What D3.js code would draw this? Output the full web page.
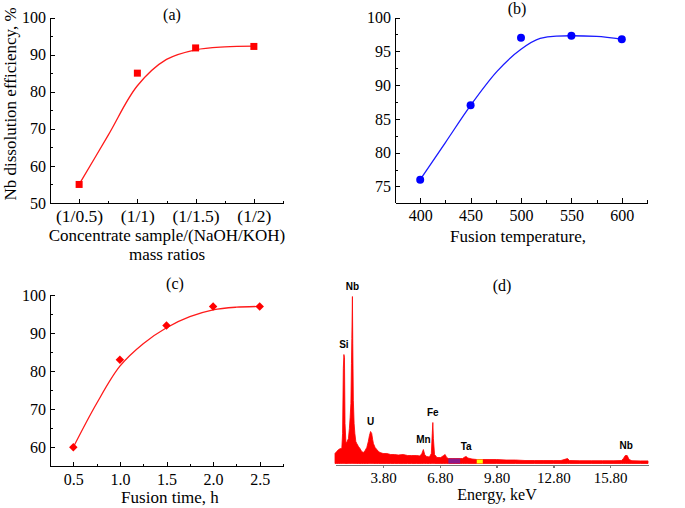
<!DOCTYPE html>
<html><head><meta charset="utf-8">
<script src="https://cdn.jsdelivr.net/npm/d3@7/dist/d3.min.js"></script>
<style>
html,body{margin:0;padding:0;background:#fff;}
svg text{font-family:"Liberation Serif","Times New Roman",serif;fill:#000;}
.el{font-family:"Liberation Sans",Arial,sans-serif !important;font-weight:bold;font-size:10px;}
</style></head>
<body>
<svg id="c" width="685" height="508"></svg>
<script>
// ---------- Panel (a) ----------
const aCategories = ["(1/0.5)", "(1/1)", "(1/1.5)", "(1/2)"];
const aValues = [55, 85, 91.8, 92.2];
const aFitX = [0, 0.5, 1, 1.5, 2, 2.5, 3];
const aFitY = [55, 68.3, 81.6, 88.7, 91.3, 92.1, 92.3];
const aYTicks = [50, 60, 70, 80, 90, 100];

// ---------- Panel (b) ----------
const bTemps = [400, 450, 500, 550, 600];
const bValues = [76, 87, 97, 97.3, 96.8];
const bFitX = [400, 425, 450, 476, 500, 519, 535, 550, 575, 600];
const bFitY = [76, 81.5, 87, 92.0, 95.3, 96.9, 97.25, 97.3, 97.2, 96.8];
const bYTicks = [75, 80, 85, 90, 95, 100];

// ---------- Panel (c) ----------
const cTimes = [0.5, 1.0, 1.5, 2.0, 2.5];
const cValues = [60, 83, 92, 97, 97];
const cFitX = [0.5, 0.75, 1.0, 1.25, 1.5, 1.75, 2.0, 2.25, 2.5];
const cFitY = [60, 71.5, 81.3, 87.2, 91.4, 94.3, 96.1, 96.8, 97.0];
const cYTicks = [60, 70, 80, 90, 100];

// ---------- Panel (d) EDX spectrum ----------
const dEnergy = [1.26,1.35,1.45,1.55,1.62,1.66,1.70,1.73,1.76,1.79,1.84,1.90,1.97,2.02,2.06,2.10,2.13,2.15,2.18,2.20,2.23,2.27,2.31,2.36,2.41,2.50,2.58,2.67,2.76,2.85,2.94,3.02,3.08,3.14,3.20,3.25,3.29,3.38,3.47,3.56,3.64,3.80,4.00,4.20,4.40,4.60,4.86,5.10,5.30,5.58,5.75,5.85,5.93,6.00,6.10,6.25,6.35,6.40,6.43,6.46,6.52,6.65,6.85,7.00,7.08,7.16,7.25,7.45,7.65,7.87,8.00,8.12,8.19,8.28,8.50,8.75,9.07,9.40,9.80,10.3,10.8,11.3,11.8,12.3,12.8,13.2,13.55,13.65,14.2,14.8,15.4,16.0,16.40,16.50,16.60,16.70,16.80,16.95,17.4,17.8];
const dCounts = [100,120,140,150,150,300,950,1090,1060,400,200,220,250,350,460,600,1000,1250,1670,1200,630,400,300,220,200,170,150,120,110,130,160,220,280,320,300,240,200,160,140,120,110,100,100,90,90,85,90,80,80,80,75,100,140,90,70,65,100,300,410,250,90,60,60,80,90,60,50,50,50,50,50,65,70,55,45,40,40,40,40,35,35,30,30,30,30,30,50,30,28,28,28,28,30,50,80,80,40,28,26,26];
const dTicks = [3.8, 6.8, 9.8, 12.8, 15.8];
const dPeaks = [
  {label: "Nb", e: 2.18}, {label: "Si", e: 1.73}, {label: "U", e: 3.14},
  {label: "Mn", e: 5.93}, {label: "Fe", e: 6.43}, {label: "Ta", e: 8.19}, {label: "Nb", e: 16.65}
];
const dRoiPurple = [7.25, 7.87];
const dRoiYellow = [8.75, 9.07];

const svg = d3.select("#c");

function axes(g, x, y, opt) {
  const gx = g.append("g").attr("transform", `translate(0,${y.range()[0]})`);
  gx.call(d3.axisBottom(x).tickValues(opt.xMajor).tickSizeInner(-4.5).tickSizeOuter(0).tickPadding(7).tickFormat(opt.xFmt));
  gx.append("g").call(d3.axisBottom(x).tickValues(opt.xMinor).tickSizeInner(-2.5).tickSizeOuter(0).tickFormat(""))
    .select(".domain").remove();
  gx.selectAll(".tick text").attr("font-size", opt.xFont || 16);
  const gy = g.append("g").attr("transform", `translate(${x.range()[0]},0)`);
  gy.call(d3.axisLeft(y).tickValues(opt.yMajor).tickSizeInner(-4.5).tickSizeOuter(0).tickPadding(4));
  gy.append("g").call(d3.axisLeft(y).tickValues(opt.yMinor).tickSizeInner(-2.5).tickSizeOuter(0).tickFormat(""))
    .select(".domain").remove();
  gy.selectAll(".tick text").attr("font-size", 16);
  g.selectAll(".tick text").attr("font-family", "Liberation Serif");
  g.selectAll(".domain, .tick line").attr("stroke", "#000").attr("stroke-width", 1).attr("shape-rendering", "crispEdges");
}

// ===== (a) =====
{
  const g = svg.append("g");
  const x = d3.scaleLinear().domain([-0.5, 3.5]).range([50, 283]);
  const y = d3.scaleLinear().domain([50, 100]).range([203, 17.5]);
  axes(g, x, y, {xMajor: [0,1,2,3], xMinor: [0.5,1.5,2.5,3.5], xFmt: i => aCategories[i], xFont: 17.5,
                 yMajor: aYTicks, yMinor: [55,65,75,85,95]});
  const fit = aFitX.map((v,i)=>[v,aFitY[i]]);
  g.append("path").datum(fit).attr("fill","none").attr("stroke","#ff1a1a").attr("stroke-width",1.3)
    .attr("d", d3.line().x(d=>x(d[0])).y(d=>y(d[1])).curve(d3.curveCatmullRom.alpha(0.5)));
  g.selectAll("rect.m").data(aValues).join("rect").attr("class","m")
    .attr("x",(d,i)=>x(i)-3.5).attr("y",d=>y(d)-3.5).attr("width",7).attr("height",7).attr("fill","#ff0000");
  g.append("text").attr("x",172).attr("y",20).attr("text-anchor","middle").attr("font-size",16).text("(a)");
  g.append("text").attr("x",167).attr("y",241).attr("text-anchor","middle").attr("font-size",17).text("Concentrate sample/(NaOH/KOH)");
  g.append("text").attr("x",167).attr("y",260).attr("text-anchor","middle").attr("font-size",17).text("mass ratios");
  g.append("text").attr("transform","translate(15.5,104) rotate(-90)").attr("text-anchor","middle").attr("font-size",17)
    .text("Nb dissolution efficiency, %");
}

// ===== (b) =====
{
  const g = svg.append("g");
  const x = d3.scaleLinear().domain([375, 625]).range([395, 647]);
  const y = d3.scaleLinear().domain([72.6, 100]).range([202.7, 17.5]);
  axes(g, x, y, {xMajor: bTemps, xMinor: [425,475,525,575,625], xFmt: d3.format("d"),
                 yMajor: bYTicks, yMinor: [77.5,82.5,87.5,92.5,97.5]});
  const fit = bFitX.map((v,i)=>[v,bFitY[i]]);
  g.append("path").datum(fit).attr("fill","none").attr("stroke","#1a1aff").attr("stroke-width",1.3)
    .attr("d", d3.line().x(d=>x(d[0])).y(d=>y(d[1])).curve(d3.curveMonotoneX));
  g.selectAll("circle").data(bValues).join("circle")
    .attr("cx",(d,i)=>x(bTemps[i])).attr("cy",d=>y(d)).attr("r",4).attr("fill","#0000ff");
  g.append("text").attr("x",517).attr("y",14).attr("text-anchor","middle").attr("font-size",16).text("(b)");
  g.append("text").attr("x",518).attr("y",242).attr("text-anchor","middle").attr("font-size",17).text("Fusion temperature,");
}

// ===== (c) =====
{
  const g = svg.append("g");
  const x = d3.scaleLinear().domain([0.25, 2.75]).range([50, 283]);
  const y = d3.scaleLinear().domain([55, 100]).range([466.3, 295]);
  axes(g, x, y, {xMajor: cTimes, xMinor: [0.75,1.25,1.75,2.25,2.75], xFmt: d3.format(".1f"),
                 yMajor: cYTicks, yMinor: [65,75,85,95]});
  const fit = cFitX.map((v,i)=>[v,cFitY[i]]);
  g.append("path").datum(fit).attr("fill","none").attr("stroke","#ff1a1a").attr("stroke-width",1.3)
    .attr("d", d3.line().x(d=>x(d[0])).y(d=>y(d[1])).curve(d3.curveCatmullRom.alpha(0.5)));
  g.selectAll("path.m").data(cValues).join("path").attr("class","m")
    .attr("transform",(d,i)=>`translate(${x(cTimes[i])},${y(d)}) rotate(45)`)
    .attr("d", d3.symbol(d3.symbolSquare, 36)).attr("fill","#ff0000");
  g.append("text").attr("x",175).attr("y",289).attr("text-anchor","middle").attr("font-size",16).text("(c)");
  g.append("text").attr("x",170).attr("y",503).attr("text-anchor","middle").attr("font-size",17).text("Fusion time, h");
}

// ===== (d) =====
{
  const g = svg.append("g");
  const x = d3.scaleLinear().domain([1.26, 17.8]).range([335, 648]);
  const y = d3.scaleLinear().domain([0, 1750]).range([463.5, 288.5]);
  const pts = dEnergy.map((e,i)=>[e,dCounts[i]]);
  const area = d3.area().x(d=>x(d[0])).y0(y(0)).y1(d=>y(d[1]));
  g.append("path").datum(pts).attr("fill","#ff0000").attr("stroke","#ff0000").attr("stroke-width",0.8).attr("d", area);
  const seg = (r) => pts.filter(d=>d[0]>=r[0]-1e-9 && d[0]<=r[1]+1e-9);
  g.append("path").datum(seg(dRoiPurple)).attr("fill","#8a1a8a").attr("d", area);
  g.append("path").datum(seg(dRoiYellow)).attr("fill","#ffff00").attr("d", area);
  const gx = g.append("g").attr("transform","translate(0,465)");
  gx.call(d3.axisBottom(x).tickValues(dTicks).tickSizeInner(3).tickSizeOuter(0).tickPadding(4).tickFormat(d3.format(".2f")));
  gx.selectAll(".domain, .tick line").attr("stroke","#777").attr("stroke-width",1.5).attr("shape-rendering","crispEdges");
  gx.selectAll(".tick text").attr("font-size",15).attr("font-family","Liberation Serif").attr("fill","#222");
  const peakY = e => { let best = 0; pts.forEach(d=>{ if (Math.abs(d[0]-e) < 0.06) best = Math.max(best, d[1]); }); return best; };
  g.selectAll("text.el").data(dPeaks).join("text").attr("class","el")
    .attr("x", d=>x(d.e)).attr("y", d=>y(peakY(d.e))-7).attr("text-anchor","middle").text(d=>d.label);
  g.append("text").attr("x",502).attr("y",291).attr("text-anchor","middle").attr("font-size",16).text("(d)");
  g.append("text").attr("x",497).attr("y",500).attr("text-anchor","middle").attr("font-size",16).attr("fill","#222").text("Energy, keV");
}
</script>
</body></html>
